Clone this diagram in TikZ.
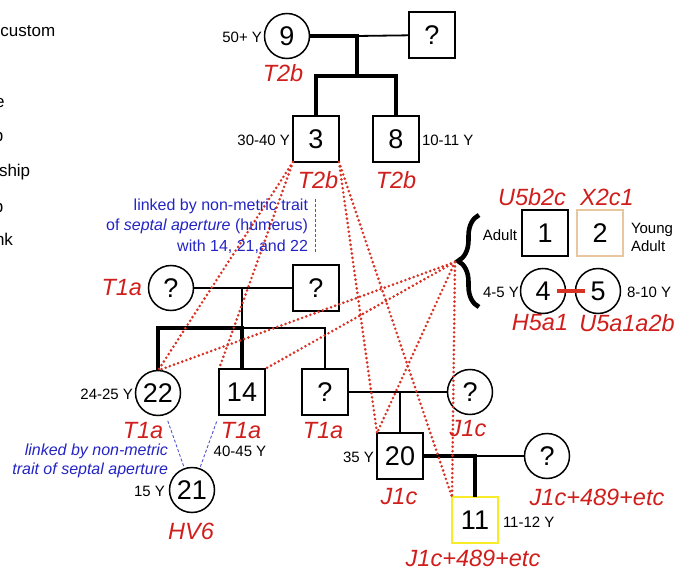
\documentclass[tikz,border=0pt]{standalone}
\usepackage{fontspec}
\setmainfont{Liberation Sans}
\usetikzlibrary{positioning,calc,decorations.pathreplacing}
\definecolor{hapred}{RGB}{208,30,28}
\definecolor{linkred}{RGB}{216,50,36}
\definecolor{notblue}{RGB}{36,36,196}
\definecolor{tanline}{RGB}{232,198,160}
\definecolor{yelline}{RGB}{248,236,40}

\begin{document}
\begin{tikzpicture}[x=1pt,y=-1pt,every node/.style={inner sep=0pt,outer sep=0pt},
				male/.style={draw,rectangle,minimum size=46pt,line width=1.5pt,font=\fontsize{27}{27}\selectfont},
				female/.style={draw,circle,minimum size=45pt,line width=1.5pt,font=\fontsize{27}{27}\selectfont},
				hap/.style={text=hapred,font=\fontsize{23.5}{23.5}\selectfont\itshape},
				age/.style={font=\fontsize{15}{18}\selectfont},
				key/.style={font=\fontsize{17}{17}\selectfont},
				note/.style={text=notblue,font=\fontsize{16}{20.5}\selectfont},
				thinline/.style={line width=1.8pt},
				thickline/.style={line width=4.8pt},
				relate/.style={draw=linkred,line width=2.9pt,dash pattern=on 0pt off 4.4pt,line cap=round},
				bone/.style={draw=notblue!80,dash pattern=on 3pt off 2pt,line width=0.9pt}]
				\useasboundingbox (0,0) rectangle (679,569);
				\clip (0,0) rectangle (679,569);
				\node[key,anchor=base west] (K1) at (0.5,37) {custom};
				\node[key,anchor=base west] (K2) at (-5,108) {e};
				\node[key,anchor=base west] (K3) at (-6,142) {p};
				\node[key,anchor=base west] (K4) at (-1,177) {ship};
				\node[key,anchor=base west] (K5) at (-6,212) {p};
				\node[key,anchor=base west] (K6) at (-5,245) {nk};
				
				\node (I9)  [female] at (287,36)  {9};
				\node (Q1)  [male]   at (432,35)  {?};
				\node (I3)  [male]   at (316,139) {3};
				\node (I8)  [male]   at (396,139) {8};
				\node (QF1) [female] at (171,288) {?};
				\node (QM1) [male]   at (316,288) {?};
				\node (I22) [female] at (158,393) {22};
				\node (I14) [male]   at (242,392) {14};
				\node (QM2) [male]   at (325,392) {?};
				\node (QF2) [female] at (470,392) {?};
				\node (I21) [female] at (192,490) {21};
				\node (I20) [male]   at (400,456) {20};
				\node (QF3) [female] at (547,456) {?};
				\node (I11) [male,draw=yelline] at (475,520) {11};
				\node (I1)  [male]   at (545,233) {1};
				\node (I2)  [male,draw=tanline,line width=1.3pt] at (600,233) {2};
				\node (I4)  [female] at (543,291) {4};
				\node (I5)  [female] at (598,291) {5};
				
				\coordinate (M1) at (357,36);
				\coordinate (S1) at (357,76);
				\coordinate (M2) at (242,288);
				\coordinate (S2) at (242,328);
				\coordinate (M3) at (400,392);
				\coordinate (M4) at (475,456);
				\coordinate (BR) at (455,262);
				
				\draw[thickline] (I9) -- (M1) -- (S1);
				\draw[thinline]  (M1) -- (Q1);
				\draw[thickline] (I3) |- (S1) -| (I8);
				\draw[thinline]  (QF1) -- (QM1) (M2) -- (S2);
				\draw[thickline] (I22) |- (S2) -- (I14);
				\draw[thinline]  (S2) -| (QM2);
				\draw[thinline]  (QM2) -- (QF2) (M3) -- (I20);
				\draw[thickline] (I20) -- (M4) -- (I11);
				\draw[thinline]  (M4) -- (QF3);
				\draw[draw=linkred,line width=4pt,shorten <=14pt,shorten >=13pt] (I4.center) -- (I5.center);
				\draw[line width=4.6pt,decorate,decoration={brace,amplitude=21pt,aspect=0.5}] (479,307) -- (479,215);
				
				\draw[relate] (I3.south west) -- (I22.north);
				\draw[relate] (I3.south west) -- (I14.north west);
				\draw[relate] (I3.south east) -- (I20.north west);
				\draw[relate] (I3.south east) -- (I11.north west);
				\draw[relate] (BR) -- (I22.north);
				\draw[relate] (BR) -- (I14.north east);
				\draw[relate] (BR) -- (I20.north west);
				\draw[relate] (BR) -- (I11.north west);
				
				\draw[bone,shorten <=7pt,shorten >=1pt] (I22) -- (I21);
				\draw[bone,shorten <=7pt,shorten >=1pt] (I14.south west) -- (I21);
				
				\node[age,anchor=east] (A9)  at (262,37)  {50+ Y};
				\node[age,anchor=east] (A3)  at (290,140) {30-40 Y};
				\node[age,anchor=west] (A8)  at (422,140) {10-11 Y};
				\node[age,anchor=east] (A22) at (133,394) {24-25 Y};
				\node[age]             (A14) at (240,451) {40-45 Y};
				\node[age,anchor=east] (A21) at (165,491) {15 Y};
				\node[age,anchor=east] (A20) at (374,457) {35 Y};
				\node[age,anchor=west] (A11) at (503,522) {11-12 Y};
				\node[age,anchor=east] (A1)  at (517,235) {Adult};
				\node[age,anchor=west,align=left] (A2) at (631,237) {Young\\Adult};
				\node[age,anchor=east] (A4)  at (519,292) {4-5 Y};
				\node[age,anchor=west] (A5)  at (627,292) {8-10 Y};
				
				\node[hap] (H9)   at (283,73)  {T2b};
				\node[hap] (H3)   at (318,180) {T2b};
				\node[hap] (H8)   at (396,180) {T2b};
				\node[hap,anchor=east] (HQ1) at (142,288) {T1a};
				\node[hap] (H22)  at (143,431) {T1a};
				\node[hap] (H14)  at (241,431) {T1a};
				\node[hap] (HQ2)  at (323,431) {T1a};
				\node[hap] (HQ3)  at (468,429) {J1c};
				\node[hap] (H20)  at (399,497) {J1c};
				\node[hap] (H21)  at (191,531) {HV6};
				\node[hap] (H11)  at (473,558) {J1c+489+etc};
				\node[hap] (HQ4)  at (597,497) {J1c+489+etc};
				\node[hap] (H1)   at (532,197) {U5b2c};
				\node[hap] (H2)   at (607,197) {X2c1};
				\node[hap] (H4)   at (540,323) {H5a1};
				\node[hap] (H5)   at (627,323) {U5a1a2b};
				
				\node[note,anchor=east,align=right] (N1) at (308,226) {linked by non-metric trait\\of \textit{septal aperture} (humerus)\\with 14, 21,and 22};
				\draw[bone] ([xshift=7pt]N1.north east) -- ([xshift=7pt]N1.south east);
				\node[note,anchor=east,align=right,font=\fontsize{16}{19}\selectfont\itshape] (N2) at (168,461) {linked by non-metric\\trait of septal aperture};
			\end{tikzpicture}
\end{document}
